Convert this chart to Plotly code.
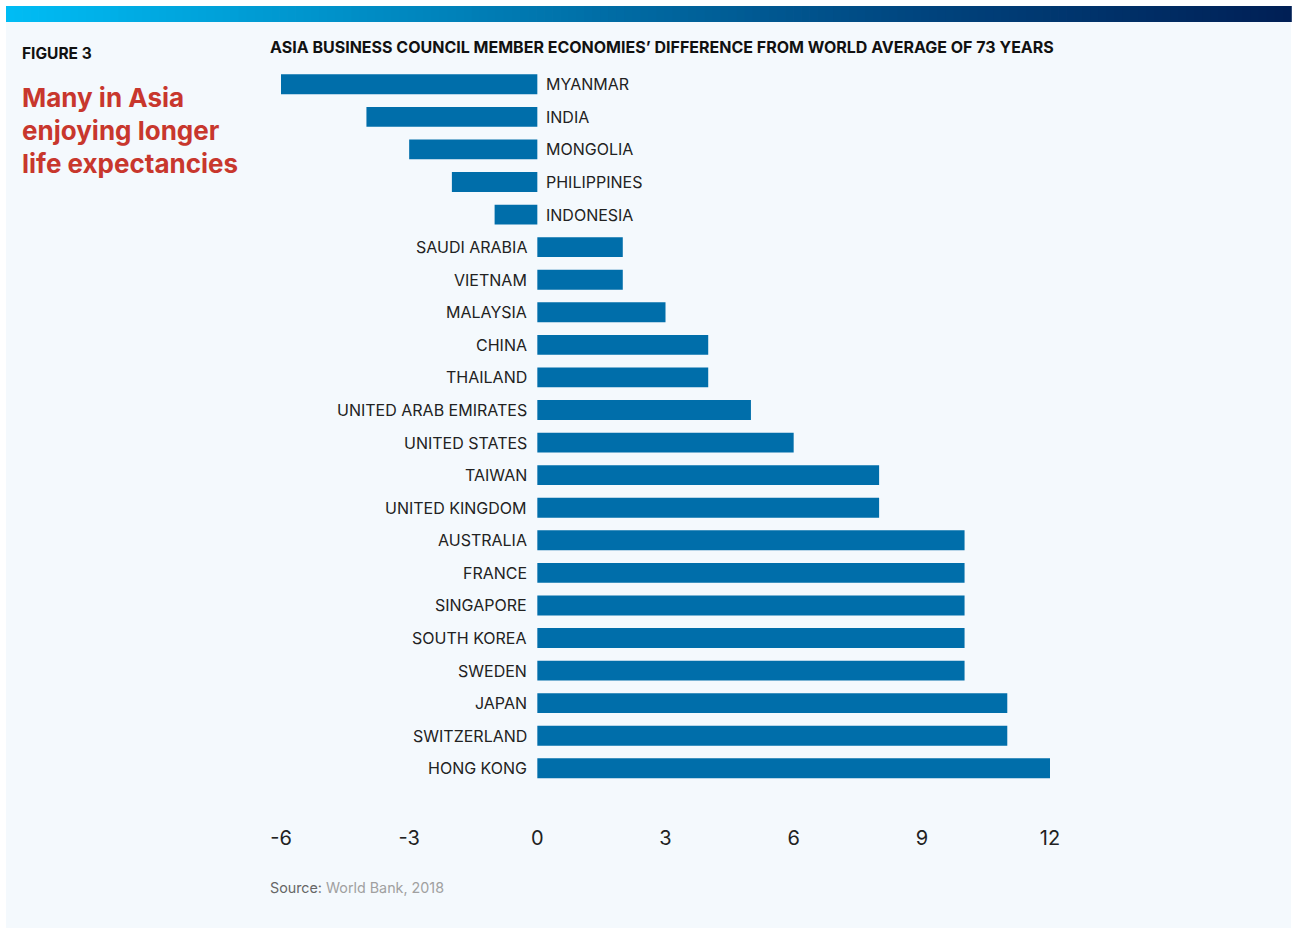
import plotly.graph_objects as go

countries = ["MYANMAR", "INDIA", "MONGOLIA", "PHILIPPINES", "INDONESIA", "SAUDI ARABIA",
             "VIETNAM", "MALAYSIA", "CHINA", "THAILAND", "UNITED ARAB EMIRATES",
             "UNITED STATES", "TAIWAN", "UNITED KINGDOM", "AUSTRALIA", "FRANCE",
             "SINGAPORE", "SOUTH KOREA", "SWEDEN", "JAPAN", "SWITZERLAND", "HONG KONG"]
diff_years = [-6, -4, -3, -2, -1, 2, 2, 3, 4, 4, 5, 6, 8, 8, 10, 10, 10, 10, 10, 11, 11, 12]
tick_values = [-6, -3, 0, 3, 6, 9, 12]
tick_labels = ["-6", "-3", "0", "3", "6", "9", "12"]

W, H = 1292, 928
ML, MR, MT, MB = 281, 242, 68, 104
PW, PH = W - ML - MR, H - MT - MB


def px(x):
    return (x - ML) / PW


def py(y):
    return (H - MB - y) / PH


FONT = "Inter, Roboto, sans-serif"
BAR = "#006EAA"
BG = "#F4F9FD"

fig = go.Figure()
fig.add_trace(go.Bar(
    x=diff_years, y=countries, orientation="h",
    marker=dict(color=BAR, line=dict(width=0)),
    width=0.61, hoverinfo="x+y",
))

# category labels next to zero line
annotations = []
for c, v in zip(countries, diff_years):
    if v >= 0:
        annotations.append(dict(x=0, y=c, xref="x", yref="y", text=c, showarrow=False,
                                xanchor="right", xshift=-8, yanchor="middle",
                                font=dict(family=FONT, size=16, color="#222222")))
    else:
        annotations.append(dict(x=0, y=c, xref="x", yref="y", text=c, showarrow=False,
                                xanchor="left", xshift=7, yanchor="middle",
                                font=dict(family=FONT, size=16, color="#222222")))

annotations += [
    dict(x=px(20), y=py(54), xref="paper", yref="paper", text="<b>FIGURE 3</b>",
         showarrow=False, xanchor="left", yanchor="middle",
         font=dict(family=FONT, size=15.5, color="#111111")),
    dict(x=px(268), y=py(47), xref="paper", yref="paper",
         text="<b>ASIA BUSINESS COUNCIL MEMBER ECONOMIES\u2019 DIFFERENCE FROM WORLD AVERAGE OF 73 YEARS</b>",
         showarrow=False, xanchor="left", yanchor="middle",
         font=dict(family=FONT, size=16, color="#111111")),
    dict(x=px(268), y=py(887), xref="paper", yref="paper",
         text="<span style='color:#666666'>Source:</span> World Bank, 2018",
         showarrow=False, xanchor="left", yanchor="middle",
         font=dict(family=FONT, size=14.3, color="#A0A0A0")),
]
for i, line in enumerate(["Many in Asia", "enjoying longer", "life expectancies"]):
    annotations.append(dict(x=px(19.5), y=py(98 + i * 32.5), xref="paper", yref="paper",
                            text=f"<b>{line}</b>", showarrow=False, xanchor="left",
                            yanchor="middle",
                            font=dict(family=FONT, size=26, color="#C8372D")))

# background panel and gradient strip
shapes = [dict(type="rect", xref="paper", yref="paper", x0=px(6), x1=px(1291),
               y0=py(22), y1=py(928), fillcolor=BG, line=dict(width=0), layer="below")]

stops = [(0.0, (0, 189, 245)), (0.45, (0, 112, 168)), (0.7, (0, 70, 128)), (1.0, (0, 31, 85))]


def grad(t):
    for (t0, c0), (t1, c1) in zip(stops[:-1], stops[1:]):
        if t0 <= t <= t1:
            f = (t - t0) / (t1 - t0)
            return "rgb(%d,%d,%d)" % tuple(round(a + (b - a) * f) for a, b in zip(c0, c1))
    return "rgb(0,31,85)"


N = 160
x_start, x_end = 6, 1291
step = (x_end - x_start) / N
for i in range(N):
    shapes.append(dict(type="rect", xref="paper", yref="paper",
                       x0=px(x_start + i * step), x1=px(x_start + (i + 1) * step + 0.8),
                       y0=py(22), y1=py(6), fillcolor=grad((i + 0.5) / N),
                       line=dict(width=0), layer="below"))

fig.update_layout(
    width=W, height=H, autosize=False,
    margin=dict(l=ML, r=MR, t=MT, b=MB, pad=0),
    paper_bgcolor="white", plot_bgcolor="rgba(0,0,0,0)",
    showlegend=False,
    font=dict(family=FONT),
    xaxis=dict(range=[-6, 12], tickvals=tick_values, ticktext=tick_labels,
               showgrid=False, zeroline=False, showline=False, ticks="",
               tickfont=dict(family=FONT, size=20, color="#222222"), fixedrange=True),
    yaxis=dict(range=[22.71, -0.5], showticklabels=False, showgrid=False,
               zeroline=False, showline=False, ticks="", fixedrange=True,
               categoryorder="array", categoryarray=countries),
    annotations=annotations,
    shapes=shapes,
    bargap=0.39,
)

fig.write_html("out.html", config={"displayModeBar": False},
               post_script="document.body.style.margin='0';document.body.style.overflow='hidden';")
